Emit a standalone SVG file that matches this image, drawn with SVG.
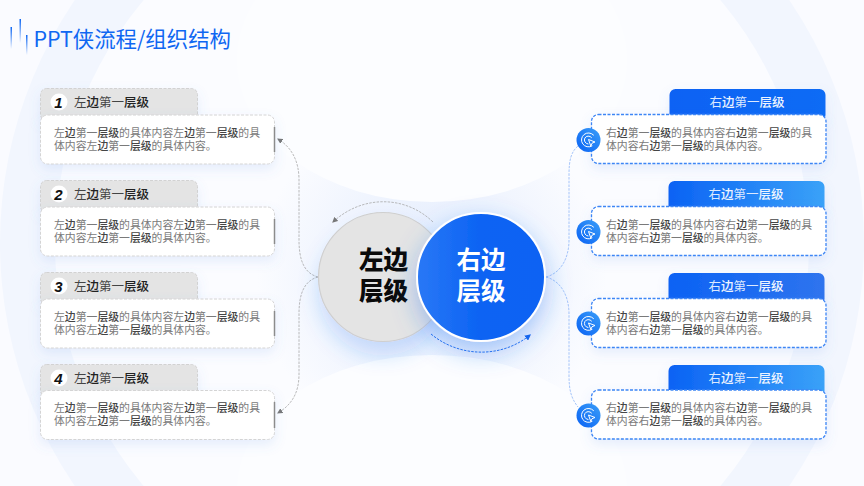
<svg xmlns="http://www.w3.org/2000/svg" width="864" height="486" viewBox="0 0 864 486">
<style>
text{font-family:"Noto Sans CJK SC","Noto Sans",sans-serif}
.title{font-size:21.4px;fill:#0f67f2}
.hl{font-size:12.5px;fill:#444;font-family:"Liberation Sans","Noto Sans CJK SC",sans-serif}
.hr{font-size:12.5px;fill:#dce9ff;font-family:"Liberation Sans","Noto Sans CJK SC",sans-serif}
.b{font-size:10.85px;fill:#7a7a7a;font-family:"Liberation Sans","Noto Sans CJK SC",sans-serif}
.b tspan{fill:#454545;font-weight:500}
.hl tspan{font-weight:500;fill:#222}
.hr tspan{font-weight:500;fill:#eef4ff}
.lh{fill:#e4e4e4;stroke:#d2d2d2;stroke-width:1;stroke-dasharray:3 1.5}
.lb{fill:#fff;stroke:#d4d4d4;stroke-width:1;stroke-dasharray:3 1.5}
.rb{fill:#fff;stroke:#3d86f5;stroke-width:1.3;stroke-dasharray:3 1.5}
.bar{stroke:#8c8c8c;stroke-width:1.5}
.num{font-size:15px;font-weight:700;font-style:italic;fill:#111;font-family:"Liberation Sans",sans-serif}
.c{font-size:24.5px;font-weight:700;font-family:"Liberation Sans","Noto Sans CJK SC",sans-serif}
.gc{fill:none;stroke:#a8a8a8;stroke-width:.8;stroke-dasharray:2.5 1.2}
.bc{fill:none;stroke:#8fb6f7;stroke-width:.8;stroke-dasharray:2.5 1.2}
.ic{fill:none;stroke:#fff;stroke-width:1;stroke-linecap:round}
</style>
<defs>
<linearGradient id="fadeA" x1="0" y1="0" x2="0" y2="1"><stop offset="0" stop-color="#0f67f2"/><stop offset="1" stop-color="#0f67f2" stop-opacity="0"/></linearGradient>
<linearGradient id="h1" x1="0" y1="0" x2="1" y2="0"><stop offset="0" stop-color="#0a62f4"/><stop offset="1" stop-color="#0f6cf5"/></linearGradient>
<linearGradient id="h2" x1="0" y1="0" x2="1" y2="0"><stop offset="0" stop-color="#0a62f4"/><stop offset="1" stop-color="#3aa2f8"/></linearGradient>
<linearGradient id="h3" x1="0" y1="0" x2="1" y2="0"><stop offset="0" stop-color="#0a62f4"/><stop offset="1" stop-color="#2f74ee"/></linearGradient>
<linearGradient id="rc" x1="0" y1="0" x2="1" y2="0"><stop offset="0" stop-color="#2a78f6"/><stop offset=".5" stop-color="#0b63f3"/><stop offset="1" stop-color="#0a62f3"/></linearGradient>
<linearGradient id="ig" x1="0" y1="1" x2="1" y2="0"><stop offset="0" stop-color="#0a62f4"/><stop offset="1" stop-color="#3a9ef8"/></linearGradient>
<filter id="s" x="-20%" y="-30%" width="140%" height="170%"><feDropShadow dx="0" dy="5" stdDeviation="6" flood-color="#5b8fe8" flood-opacity=".14"/></filter>
<filter id="glow" x="-40%" y="-40%" width="180%" height="190%"><feDropShadow dx="0" dy="10" stdDeviation="13" flood-color="#2a73f0" flood-opacity=".38"/></filter>
<filter id="glowL" x="-40%" y="-40%" width="180%" height="190%"><feDropShadow dx="0" dy="14" stdDeviation="10" flood-color="#2a73f0" flood-opacity=".2"/></filter>
<marker id="ag" viewBox="0 0 10 10" refX="8" refY="5" markerWidth="7" markerHeight="7" orient="auto-start-reverse"><path d="M0 0L10 5L0 10z" fill="#777"/></marker>
<marker id="ab" viewBox="0 0 10 10" refX="8" refY="5" markerWidth="7" markerHeight="7" orient="auto-start-reverse"><path d="M0 0L10 5L0 10z" fill="#1566ee"/></marker>
<radialGradient id="halo" cx=".5" cy=".5" r=".5"><stop offset="0" stop-color="#dfeafd"/><stop offset=".55" stop-color="#eff4fe"/><stop offset="1" stop-color="#fbfcff"/></radialGradient>
</defs>
<g id="background">
<rect width="864" height="486" fill="#fafbff"/>
<circle cx="432" cy="243" r="432" fill="#f2f6fe"/>
<circle cx="432" cy="243" r="377" fill="#fbfcff"/>
<circle cx="432" cy="277" r="175" fill="url(#halo)"/>
<ellipse cx="432" cy="60" rx="195" ry="142" fill="#fcfdff"/>
<ellipse cx="432" cy="490" rx="195" ry="135" fill="#fcfdff"/>
</g>
<g id="title">
<rect x="10.5" y="27" width="1.5" height="22" fill="url(#fadeA)"/>
<rect x="19.500" y="19" width="1.5" height="24" fill="url(#fadeA)"/>
<rect x="26" y="35" width="1.5" height="20" fill="url(#fadeA)"/>
<text class="title" x="33.5" y="47">PPT侠流程/组织结构</text>
</g>
<g id="connectors">
<path class="gc" d="M318 277C303 273 299 258 299 240L299 180C299 160 291 147 278 139" marker-end="url(#ag)"/>
<path class="gc" d="M318 277C303 281 299 296 299 314L299 374C299 394 291 405 278 413" marker-end="url(#ag)"/>
<path class="bc" d="M546 277C561 273 569 258 569 240L569 175C569 160 571 152 578 146"/>
<path class="bc" d="M546 277C561 281 569 296 569 314L569 375C569 390 571 398 578 407"/>
<path class="gc" d="M433 222C405 195 362 195 333 222" marker-end="url(#ag)"/>
</g>
<g id="node-left-center"><circle cx="383" cy="277" r="64.5" fill="#e4e4e4" stroke="#cfcfcf" stroke-width="1.2" filter="url(#glowL)"/><text class="c" style="font-weight:900" x="383.500" y="269" text-anchor="middle" fill="#0a0a0a">左边</text><text class="c" style="font-weight:900" x="383.500" y="300" text-anchor="middle" fill="#0a0a0a">层级</text></g>
<g id="node-right-center"><circle cx="481" cy="277" r="64" fill="url(#rc)" stroke="#fff" stroke-width="2" filter="url(#glow)"/><text class="c" x="481" y="269" text-anchor="middle" fill="#fff">右边</text><text class="c" x="481" y="300" text-anchor="middle" fill="#fff">层级</text></g>
<g id="connector-bottom"><path d="M431 334C460 358 502 358 530 335" fill="none" stroke="#1566ee" stroke-width=".9" stroke-dasharray="2.500 1.200" marker-end="url(#ab)"/></g>

<g id="left-1"><rect class="lh" x="40.500" y="88.500" width="157" height="32" rx="6" filter="url(#s)"/><circle cx="59" cy="102" r="8.500" fill="#fff"/><text class="num" x="58.500" y="107.500" text-anchor="middle">1</text><text class="hl" x="74" y="106.500">左<tspan>边</tspan>第一<tspan>层级</tspan></text>
<rect class="lb" x="40.500" y="115" width="234" height="49" rx="7" filter="url(#s)"/><line class="bar" x1="274.500" y1="127" x2="274.500" y2="152"/>
<text class="b" x="54" y="136.500">左<tspan>边</tspan>第一<tspan>层级</tspan>的具体内容左<tspan>边</tspan>第一<tspan>层级</tspan>的具</text><text class="b" x="54" y="149.500">体内容左<tspan>边</tspan>第一<tspan>层级</tspan>的具体内容。</text></g>

<g id="left-2"><rect class="lh" x="40.500" y="180.500" width="157" height="32" rx="6" filter="url(#s)"/><circle cx="59" cy="194" r="8.500" fill="#fff"/><text class="num" x="58.500" y="199.500" text-anchor="middle">2</text><text class="hl" x="74" y="198.500">左<tspan>边</tspan>第一<tspan>层级</tspan></text>
<rect class="lb" x="40.500" y="207" width="234" height="49" rx="7" filter="url(#s)"/><line class="bar" x1="274.500" y1="219" x2="274.500" y2="244"/>
<text class="b" x="54" y="228.500">左<tspan>边</tspan>第一<tspan>层级</tspan>的具体内容左<tspan>边</tspan>第一<tspan>层级</tspan>的具</text><text class="b" x="54" y="241.500">体内容左<tspan>边</tspan>第一<tspan>层级</tspan>的具体内容。</text></g>

<g id="left-3"><rect class="lh" x="40.500" y="272.500" width="157" height="32" rx="6" filter="url(#s)"/><circle cx="59" cy="286" r="8.500" fill="#fff"/><text class="num" x="58.500" y="291.500" text-anchor="middle">3</text><text class="hl" x="74" y="290.500">左<tspan>边</tspan>第一<tspan>层级</tspan></text>
<rect class="lb" x="40.500" y="299" width="234" height="49" rx="7" filter="url(#s)"/><line class="bar" x1="274.500" y1="311" x2="274.500" y2="336"/>
<text class="b" x="54" y="320.500">左<tspan>边</tspan>第一<tspan>层级</tspan>的具体内容左<tspan>边</tspan>第一<tspan>层级</tspan>的具</text><text class="b" x="54" y="333.500">体内容左<tspan>边</tspan>第一<tspan>层级</tspan>的具体内容。</text></g>

<g id="left-4"><rect class="lh" x="40.500" y="364.500" width="157" height="32" rx="6" filter="url(#s)"/><circle cx="59" cy="378" r="8.500" fill="#fff"/><text class="num" x="58.500" y="383.500" text-anchor="middle">4</text><text class="hl" x="74" y="382.500">左<tspan>边</tspan>第一<tspan>层级</tspan></text>
<rect class="lb" x="40.500" y="390.500" width="234" height="49" rx="7" filter="url(#s)"/><line class="bar" x1="274.500" y1="402" x2="274.500" y2="428"/>
<text class="b" x="54" y="412">左<tspan>边</tspan>第一<tspan>层级</tspan>的具体内容左<tspan>边</tspan>第一<tspan>层级</tspan>的具</text><text class="b" x="54" y="425">体内容左<tspan>边</tspan>第一<tspan>层级</tspan>的具体内容。</text></g>

<g id="right-1"><rect x="669.500" y="89" width="156" height="32" rx="6" fill="url(#h1)" filter="url(#s)"/><text class="hr" x="747" y="106.500" text-anchor="middle">右<tspan>边</tspan>第一<tspan>层级</tspan></text>
<rect class="rb" x="591.500" y="114.500" width="234.500" height="49" rx="7" filter="url(#s)"/>
<circle cx="588.500" cy="140" r="12" fill="url(#ig)"/><path class="ic" d="M593.500 135A7 7 0 1 0 592 146"/><path class="ic" d="M591.500 137.500A4 4 0 1 0 588 144"/><path d="M588.500 139.500L595 142L592 143.200L590.800 146z" fill="none" stroke="#fff" stroke-width="1" stroke-linejoin="round"/>
<text class="b" x="606" y="136.500">右<tspan>边</tspan>第一<tspan>层级</tspan>的具体内容右<tspan>边</tspan>第一<tspan>层级</tspan>的具</text><text class="b" x="606" y="149.500">体内容右<tspan>边</tspan>第一<tspan>层级</tspan>的具体内容。</text></g>

<g id="right-2"><rect x="668.500" y="181" width="156" height="32" rx="6" fill="url(#h2)" filter="url(#s)"/><text class="hr" x="746" y="198.500" text-anchor="middle">右<tspan>边</tspan>第一<tspan>层级</tspan></text>
<rect class="rb" x="591.500" y="206.500" width="234.500" height="49" rx="7" filter="url(#s)"/>
<circle cx="588.500" cy="232" r="12" fill="url(#ig)"/><path class="ic" d="M593.500 227A7 7 0 1 0 592 238"/><path class="ic" d="M591.500 229.500A4 4 0 1 0 588 236"/><path d="M588.500 231.500L595 234L592 235.200L590.800 238z" fill="none" stroke="#fff" stroke-width="1" stroke-linejoin="round"/>
<text class="b" x="606" y="228.500">右<tspan>边</tspan>第一<tspan>层级</tspan>的具体内容右<tspan>边</tspan>第一<tspan>层级</tspan>的具</text><text class="b" x="606" y="241.500">体内容右<tspan>边</tspan>第一<tspan>层级</tspan>的具体内容。</text></g>

<g id="right-3"><rect x="668.500" y="273" width="156" height="32" rx="6" fill="url(#h3)" filter="url(#s)"/><text class="hr" x="746" y="290.500" text-anchor="middle">右<tspan>边</tspan>第一<tspan>层级</tspan></text>
<rect class="rb" x="591.500" y="298.500" width="234.500" height="49" rx="7" filter="url(#s)"/>
<circle cx="588.500" cy="323.500" r="12" fill="url(#ig)"/><path class="ic" d="M593.500 318.500A7 7 0 1 0 592 329.500"/><path class="ic" d="M591.500 321A4 4 0 1 0 588 327.500"/><path d="M588.500 323L595 325.500L592 326.700L590.800 329.500z" fill="none" stroke="#fff" stroke-width="1" stroke-linejoin="round"/>
<text class="b" x="606" y="320.500">右<tspan>边</tspan>第一<tspan>层级</tspan>的具体内容右<tspan>边</tspan>第一<tspan>层级</tspan>的具</text><text class="b" x="606" y="333.500">体内容右<tspan>边</tspan>第一<tspan>层级</tspan>的具体内容。</text></g>

<g id="right-4"><rect x="668.500" y="365" width="156" height="32" rx="6" fill="url(#h2)" filter="url(#s)"/><text class="hr" x="746" y="383" text-anchor="middle">右<tspan>边</tspan>第一<tspan>层级</tspan></text>
<rect class="rb" x="591.500" y="390" width="234.500" height="49" rx="7" filter="url(#s)"/>
<circle cx="588.500" cy="415.500" r="12" fill="url(#ig)"/><path class="ic" d="M593.500 410.500A7 7 0 1 0 592 421.500"/><path class="ic" d="M591.500 413A4 4 0 1 0 588 419.500"/><path d="M588.500 415L595 417.500L592 418.700L590.800 421.500z" fill="none" stroke="#fff" stroke-width="1" stroke-linejoin="round"/>
<text class="b" x="606" y="412">右<tspan>边</tspan>第一<tspan>层级</tspan>的具体内容右<tspan>边</tspan>第一<tspan>层级</tspan>的具</text><text class="b" x="606" y="425">体内容右<tspan>边</tspan>第一<tspan>层级</tspan>的具体内容。</text></g>
</svg>
